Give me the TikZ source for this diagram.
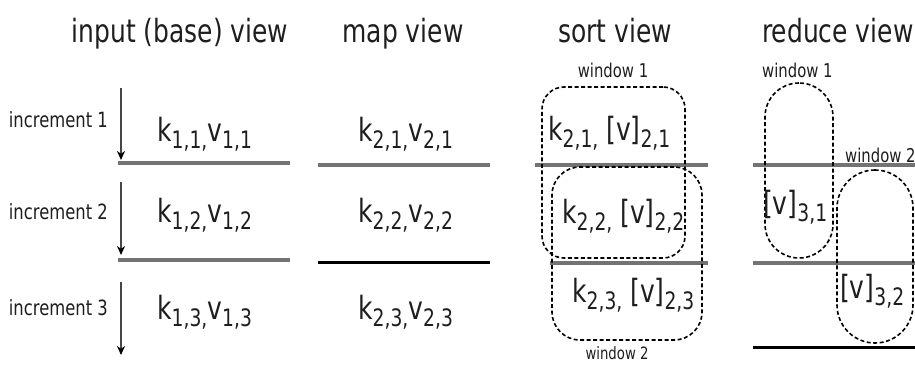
\documentclass[tikz,border=0pt]{standalone}
\usepackage{fontspec}
\setmainfont[FakeStretch=0.78]{DejaVu Sans}
\usetikzlibrary{arrows.meta}
\definecolor{sepgray}{RGB}{115,115,115}
\definecolor{arrgray}{RGB}{70,70,70}
\definecolor{txt}{RGB}{30,30,30}
\newcommand\sbx[1]{\raisebox{-7pt}{\fontsize{24}{24}\selectfont #1}}
\begin{document}
\begin{tikzpicture}[x=1pt,y=-1pt,
  ttl/.style={anchor=base, font=\fontsize{32}{32}\selectfont, inner sep=0, text=txt},
  lbl/.style={anchor=base west, font=\fontsize{32}{32}\selectfont, inner sep=0, text=txt},
  inc/.style={anchor=base east, font=\fontsize{21}{21}\selectfont, inner sep=0, text=txt},
  win/.style={font=\fontsize{19}{19}\selectfont, inner sep=0, text=txt},
  sep/.style={line width=4pt, draw=sepgray},
  sepb/.style={line width=3pt, draw=black},
  incarrow/.style={line width=2.8pt, draw=arrgray, -{Stealth[length=9pt,width=8pt,black]}},
  window/.style={draw=black, line width=1.6pt, dash pattern=on 4pt off 2.5pt, inner sep=0}
]
\useasboundingbox (0,0) rectangle (915,364);
% titles
\node[ttl] (t1) at (180,42) {input (base) view};
\node[ttl] (t2) at (403,42) {map view};
\node[ttl] (t3) at (615,42) {sort view};
\node[ttl, anchor=base west] (t4) at (762,42) {reduce view};
% separators
\draw[sep] (118,163) -- (290,163);
\draw[sep] (118,260) -- (290,260);
\draw[sep] (318,165) -- (490,165);
\draw[sepb] (318,262) -- (490,262);
\draw[sep] (535,165) -- (708,165);
\draw[sep] (550,263) -- (708,263);
\draw[sep] (753,165) -- (915,165);
\draw[sep] (753,263) -- (915,263);
\draw[sepb] (753,347) -- (915,347);
% increment arrows
\coordinate (a1s) at (121,88);  \coordinate (a1e) at (121,160);
\coordinate (a2s) at (121,182); \coordinate (a2e) at (121,255);
\coordinate (a3s) at (121,282); \coordinate (a3e) at (121,355);
\draw[incarrow] (a1s) -- (a1e);
\draw[incarrow] (a2s) -- (a2e);
\draw[incarrow] (a3s) -- (a3e);
\node[inc] (inc1) at (108,127) {increment 1};
\node[inc] (inc2) at (108,219) {increment 2};
\node[inc] (inc3) at (108,315) {increment 3};
% input view
\node[lbl] (i1) at (157,141) {k\sbx{1,1,}v\sbx{1,1}};
\node[lbl] (i2) at (157,222) {k\sbx{1,2,}v\sbx{1,2}};
\node[lbl] (i3) at (157,319) {k\sbx{1,3,}v\sbx{1,3}};
% map view
\node[lbl] (m1) at (358,141) {k\sbx{2,1,}v\sbx{2,1}};
\node[lbl] (m2) at (358,222) {k\sbx{2,2,}v\sbx{2,2}};
\node[lbl] (m3) at (358,319) {k\sbx{2,3,}v\sbx{2,3}};
% sort view
\node[window, minimum width=143pt, minimum height=171pt, rounded corners=22pt] (sw1) at (613.5,172.5) {};
\node[window, minimum width=150pt, minimum height=173pt, rounded corners=28pt] (sw2) at (627,253.5) {};
\node[win, anchor=base] (swl1) at (613,77) {window 1};
\node[win, anchor=base, font=\fontsize{17}{17}\selectfont] (swl2) at (617,359) {window 2};
\node[lbl] (s1) at (548,140) {k\sbx{2,1,} [v]\sbx{2,1}};
\node[lbl] (s2) at (562,223) {k\sbx{2,2,} [v]\sbx{2,2}};
\node[lbl] (s3) at (572,302) {k\sbx{2,3,} [v]\sbx{2,3}};
% reduce view
\node[window, minimum width=68pt, minimum height=175pt, rounded corners=34pt] (rw1) at (799,170.5) {};
\node[window, minimum width=76pt, minimum height=173pt, rounded corners=38pt] (rw2) at (875,256.5) {};
\node[win, anchor=base west] (rwl1) at (762,77) {window 1};
\node[win, anchor=base west] (rwl2) at (845,162) {window 2};
\node[lbl] (r1) at (763,214) {[v]\sbx{3,1}};
\node[lbl] (r2) at (840,298) {[v]\sbx{3,2}};
\end{tikzpicture}
\end{document}
